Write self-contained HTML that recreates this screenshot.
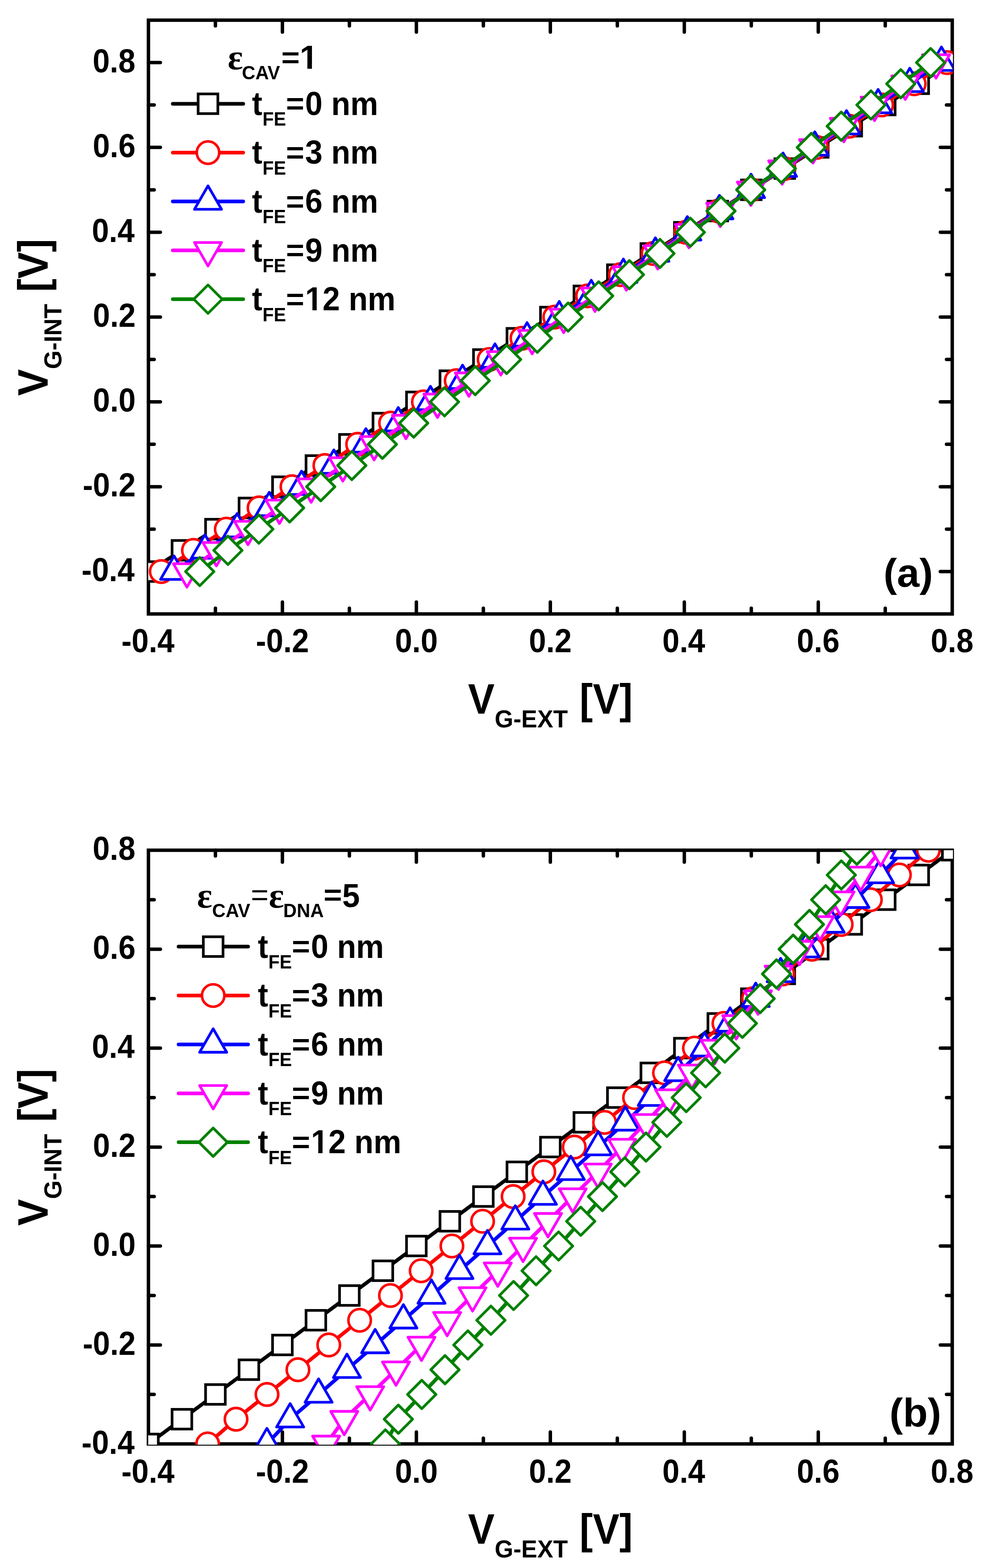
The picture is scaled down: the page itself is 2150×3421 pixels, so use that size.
<!DOCTYPE html><html><head><meta charset="utf-8"><style>html,body{margin:0;padding:0;background:#fff}svg{display:block}</style></head><body><svg width="2150" height="3421" viewBox="0 0 2150 3421">
<rect width="2150" height="3421" fill="#fff"/>
<rect x="324.0" y="44.0" width="1754.5" height="1295.5" fill="none" stroke="#000" stroke-width="7.5" stroke-linejoin="miter"/>
<path d="M470.21 1339.50L470.21 1327.00 M470.21 44.00L470.21 56.50 M616.42 1339.50L616.42 1313.50 M616.42 44.00L616.42 70.00 M762.62 1339.50L762.62 1327.00 M762.62 44.00L762.62 56.50 M908.83 1339.50L908.83 1313.50 M908.83 44.00L908.83 70.00 M1055.04 1339.50L1055.04 1327.00 M1055.04 44.00L1055.04 56.50 M1201.25 1339.50L1201.25 1313.50 M1201.25 44.00L1201.25 70.00 M1347.46 1339.50L1347.46 1327.00 M1347.46 44.00L1347.46 56.50 M1493.67 1339.50L1493.67 1313.50 M1493.67 44.00L1493.67 70.00 M1639.88 1339.50L1639.88 1327.00 M1639.88 44.00L1639.88 56.50 M1786.08 1339.50L1786.08 1313.50 M1786.08 44.00L1786.08 70.00 M1932.29 1339.50L1932.29 1327.00 M1932.29 44.00L1932.29 56.50 M324.00 1246.96L350.00 1246.96 M2078.50 1246.96L2052.50 1246.96 M324.00 1154.43L336.50 1154.43 M2078.50 1154.43L2066.00 1154.43 M324.00 1061.89L350.00 1061.89 M2078.50 1061.89L2052.50 1061.89 M324.00 969.36L336.50 969.36 M2078.50 969.36L2066.00 969.36 M324.00 876.82L350.00 876.82 M2078.50 876.82L2052.50 876.82 M324.00 784.29L336.50 784.29 M2078.50 784.29L2066.00 784.29 M324.00 691.75L350.00 691.75 M2078.50 691.75L2052.50 691.75 M324.00 599.21L336.50 599.21 M2078.50 599.21L2066.00 599.21 M324.00 506.68L350.00 506.68 M2078.50 506.68L2052.50 506.68 M324.00 414.14L336.50 414.14 M2078.50 414.14L2066.00 414.14 M324.00 321.61L350.00 321.61 M2078.50 321.61L2052.50 321.61 M324.00 229.07L336.50 229.07 M2078.50 229.07L2066.00 229.07 M324.00 136.54L350.00 136.54 M2078.50 136.54L2052.50 136.54" stroke="#000" stroke-width="7.5" stroke-linecap="round" fill="none"/>
<text transform="translate(264.96,1423.40) scale(0.94,1)" font-size="71.5" font-weight="bold" font-family='"Liberation Sans", Arial, sans-serif' fill="#000">-0.4</text>
<text transform="translate(558.54,1423.40) scale(0.94,1)" font-size="71.5" font-weight="bold" font-family='"Liberation Sans", Arial, sans-serif' fill="#000">-0.2</text>
<text transform="translate(862.17,1423.40) scale(0.94,1)" font-size="71.5" font-weight="bold" font-family='"Liberation Sans", Arial, sans-serif' fill="#000">0.0</text>
<text transform="translate(1154.55,1423.40) scale(0.94,1)" font-size="71.5" font-weight="bold" font-family='"Liberation Sans", Arial, sans-serif' fill="#000">0.2</text>
<text transform="translate(1445.80,1423.40) scale(0.94,1)" font-size="71.5" font-weight="bold" font-family='"Liberation Sans", Arial, sans-serif' fill="#000">0.4</text>
<text transform="translate(1739.25,1423.40) scale(0.94,1)" font-size="71.5" font-weight="bold" font-family='"Liberation Sans", Arial, sans-serif' fill="#000">0.6</text>
<text transform="translate(2031.49,1423.40) scale(0.94,1)" font-size="71.5" font-weight="bold" font-family='"Liberation Sans", Arial, sans-serif' fill="#000">0.8</text>
<text transform="translate(178.05,1268.16) scale(0.94,1)" font-size="71.5" font-weight="bold" font-family='"Liberation Sans", Arial, sans-serif' fill="#000">-0.4</text>
<text transform="translate(180.38,1083.09) scale(0.94,1)" font-size="71.5" font-weight="bold" font-family='"Liberation Sans", Arial, sans-serif' fill="#000">-0.2</text>
<text transform="translate(202.83,898.02) scale(0.94,1)" font-size="71.5" font-weight="bold" font-family='"Liberation Sans", Arial, sans-serif' fill="#000">0.0</text>
<text transform="translate(202.76,712.95) scale(0.94,1)" font-size="71.5" font-weight="bold" font-family='"Liberation Sans", Arial, sans-serif' fill="#000">0.2</text>
<text transform="translate(200.43,527.88) scale(0.94,1)" font-size="71.5" font-weight="bold" font-family='"Liberation Sans", Arial, sans-serif' fill="#000">0.4</text>
<text transform="translate(202.50,342.81) scale(0.94,1)" font-size="71.5" font-weight="bold" font-family='"Liberation Sans", Arial, sans-serif' fill="#000">0.6</text>
<text transform="translate(202.14,157.74) scale(0.94,1)" font-size="71.5" font-weight="bold" font-family='"Liberation Sans", Arial, sans-serif' fill="#000">0.8</text>
<text transform="translate(1021.40,1557.40) scale(0.936,1)" font-size="93" font-weight="bold" font-family='"Liberation Sans", Arial, sans-serif' fill="#000">V</text>
<text transform="translate(1079.76,1587.00) scale(0.975,1)" font-size="53.6" font-weight="bold" font-family='"Liberation Sans", Arial, sans-serif' fill="#000">G-EXT</text>
<text transform="translate(1265.01,1557.40) scale(0.936,1)" font-size="93" font-weight="bold" font-family='"Liberation Sans", Arial, sans-serif' fill="#000">[V]</text>
<text transform="translate(104.00,863.40) rotate(-90) scale(0.936,1)" font-size="93" font-weight="bold" font-family='"Liberation Sans", Arial, sans-serif'>V</text>
<text transform="translate(134.20,805.14) rotate(-90) scale(0.975,1)" font-size="53.6" font-weight="bold" font-family='"Liberation Sans", Arial, sans-serif'>G-INT</text>
<text transform="translate(104.00,636.99) rotate(-90) scale(0.936,1)" font-size="93" font-weight="bold" font-family='"Liberation Sans", Arial, sans-serif'>[V]</text>
<clipPath id="ca"><rect x="323.5" y="44.0" width="1756.5" height="1297.2"/></clipPath>
<g clip-path="url(#ca)">
<path d="M324.00 1246.96 L397.10 1200.70 L470.21 1154.43 L543.31 1108.16 L616.42 1061.89 L689.52 1015.63 L762.62 969.36 L835.73 923.09 L908.83 876.82 L981.94 830.55 L1055.04 784.29 L1128.15 738.02 L1201.25 691.75 L1274.35 645.48 L1347.46 599.21 L1420.56 552.95 L1493.67 506.68 L1566.77 460.41 L1639.88 414.14 L1712.98 367.88 L1786.08 321.61 L1859.19 275.34 L1932.29 229.07 L2005.40 182.80 L2078.50 136.54" fill="none" stroke="#000000" stroke-width="8" stroke-linejoin="round" stroke-linecap="round"/>
<rect x="302.50" y="1225.46" width="43.0" height="43.0" fill="#fff" stroke="#000000" stroke-width="5.8"/>
<rect x="375.60" y="1179.20" width="43.0" height="43.0" fill="#fff" stroke="#000000" stroke-width="5.8"/>
<rect x="448.71" y="1132.93" width="43.0" height="43.0" fill="#fff" stroke="#000000" stroke-width="5.8"/>
<rect x="521.81" y="1086.66" width="43.0" height="43.0" fill="#fff" stroke="#000000" stroke-width="5.8"/>
<rect x="594.92" y="1040.39" width="43.0" height="43.0" fill="#fff" stroke="#000000" stroke-width="5.8"/>
<rect x="668.02" y="994.13" width="43.0" height="43.0" fill="#fff" stroke="#000000" stroke-width="5.8"/>
<rect x="741.12" y="947.86" width="43.0" height="43.0" fill="#fff" stroke="#000000" stroke-width="5.8"/>
<rect x="814.23" y="901.59" width="43.0" height="43.0" fill="#fff" stroke="#000000" stroke-width="5.8"/>
<rect x="887.33" y="855.32" width="43.0" height="43.0" fill="#fff" stroke="#000000" stroke-width="5.8"/>
<rect x="960.44" y="809.05" width="43.0" height="43.0" fill="#fff" stroke="#000000" stroke-width="5.8"/>
<rect x="1033.54" y="762.79" width="43.0" height="43.0" fill="#fff" stroke="#000000" stroke-width="5.8"/>
<rect x="1106.65" y="716.52" width="43.0" height="43.0" fill="#fff" stroke="#000000" stroke-width="5.8"/>
<rect x="1179.75" y="670.25" width="43.0" height="43.0" fill="#fff" stroke="#000000" stroke-width="5.8"/>
<rect x="1252.85" y="623.98" width="43.0" height="43.0" fill="#fff" stroke="#000000" stroke-width="5.8"/>
<rect x="1325.96" y="577.71" width="43.0" height="43.0" fill="#fff" stroke="#000000" stroke-width="5.8"/>
<rect x="1399.06" y="531.45" width="43.0" height="43.0" fill="#fff" stroke="#000000" stroke-width="5.8"/>
<rect x="1472.17" y="485.18" width="43.0" height="43.0" fill="#fff" stroke="#000000" stroke-width="5.8"/>
<rect x="1545.27" y="438.91" width="43.0" height="43.0" fill="#fff" stroke="#000000" stroke-width="5.8"/>
<rect x="1618.38" y="392.64" width="43.0" height="43.0" fill="#fff" stroke="#000000" stroke-width="5.8"/>
<rect x="1691.48" y="346.38" width="43.0" height="43.0" fill="#fff" stroke="#000000" stroke-width="5.8"/>
<rect x="1764.58" y="300.11" width="43.0" height="43.0" fill="#fff" stroke="#000000" stroke-width="5.8"/>
<rect x="1837.69" y="253.84" width="43.0" height="43.0" fill="#fff" stroke="#000000" stroke-width="5.8"/>
<rect x="1910.79" y="207.57" width="43.0" height="43.0" fill="#fff" stroke="#000000" stroke-width="5.8"/>
<rect x="1983.90" y="161.30" width="43.0" height="43.0" fill="#fff" stroke="#000000" stroke-width="5.8"/>
<rect x="2057.00" y="115.04" width="43.0" height="43.0" fill="#fff" stroke="#000000" stroke-width="5.8"/>
<path d="M352.00 1246.96 L422.20 1200.70 L493.91 1154.43 L565.51 1108.16 L637.32 1061.89 L709.12 1015.63 L780.62 969.36 L852.53 923.09 L924.18 876.82 L995.79 830.55 L1067.74 784.29 L1139.30 738.02 L1210.95 691.75 L1282.45 645.48 L1354.06 599.21 L1425.56 552.95 L1496.97 506.68 L1568.52 460.41 L1639.58 414.14 L1711.08 367.88 L1782.28 321.61 L1853.44 275.34 L1924.49 229.07 L1995.60 182.80 L2066.70 136.54" fill="none" stroke="#FF0000" stroke-width="8" stroke-linejoin="round" stroke-linecap="round"/>
<circle cx="352.00" cy="1246.96" r="24.5" fill="#fff" stroke="#FF0000" stroke-width="5.6"/>
<circle cx="422.20" cy="1200.70" r="24.5" fill="#fff" stroke="#FF0000" stroke-width="5.6"/>
<circle cx="493.91" cy="1154.43" r="24.5" fill="#fff" stroke="#FF0000" stroke-width="5.6"/>
<circle cx="565.51" cy="1108.16" r="24.5" fill="#fff" stroke="#FF0000" stroke-width="5.6"/>
<circle cx="637.32" cy="1061.89" r="24.5" fill="#fff" stroke="#FF0000" stroke-width="5.6"/>
<circle cx="709.12" cy="1015.63" r="24.5" fill="#fff" stroke="#FF0000" stroke-width="5.6"/>
<circle cx="780.62" cy="969.36" r="24.5" fill="#fff" stroke="#FF0000" stroke-width="5.6"/>
<circle cx="852.53" cy="923.09" r="24.5" fill="#fff" stroke="#FF0000" stroke-width="5.6"/>
<circle cx="924.18" cy="876.82" r="24.5" fill="#fff" stroke="#FF0000" stroke-width="5.6"/>
<circle cx="995.79" cy="830.55" r="24.5" fill="#fff" stroke="#FF0000" stroke-width="5.6"/>
<circle cx="1067.74" cy="784.29" r="24.5" fill="#fff" stroke="#FF0000" stroke-width="5.6"/>
<circle cx="1139.30" cy="738.02" r="24.5" fill="#fff" stroke="#FF0000" stroke-width="5.6"/>
<circle cx="1210.95" cy="691.75" r="24.5" fill="#fff" stroke="#FF0000" stroke-width="5.6"/>
<circle cx="1282.45" cy="645.48" r="24.5" fill="#fff" stroke="#FF0000" stroke-width="5.6"/>
<circle cx="1354.06" cy="599.21" r="24.5" fill="#fff" stroke="#FF0000" stroke-width="5.6"/>
<circle cx="1425.56" cy="552.95" r="24.5" fill="#fff" stroke="#FF0000" stroke-width="5.6"/>
<circle cx="1496.97" cy="506.68" r="24.5" fill="#fff" stroke="#FF0000" stroke-width="5.6"/>
<circle cx="1568.52" cy="460.41" r="24.5" fill="#fff" stroke="#FF0000" stroke-width="5.6"/>
<circle cx="1639.58" cy="414.14" r="24.5" fill="#fff" stroke="#FF0000" stroke-width="5.6"/>
<circle cx="1711.08" cy="367.88" r="24.5" fill="#fff" stroke="#FF0000" stroke-width="5.6"/>
<circle cx="1782.28" cy="321.61" r="24.5" fill="#fff" stroke="#FF0000" stroke-width="5.6"/>
<circle cx="1853.44" cy="275.34" r="24.5" fill="#fff" stroke="#FF0000" stroke-width="5.6"/>
<circle cx="1924.49" cy="229.07" r="24.5" fill="#fff" stroke="#FF0000" stroke-width="5.6"/>
<circle cx="1995.60" cy="182.80" r="24.5" fill="#fff" stroke="#FF0000" stroke-width="5.6"/>
<circle cx="2066.70" cy="136.54" r="24.5" fill="#fff" stroke="#FF0000" stroke-width="5.6"/>
<path d="M380.00 1246.96 L447.30 1200.70 L517.61 1154.43 L587.71 1108.16 L658.22 1061.89 L728.72 1015.63 L798.62 969.36 L869.33 923.09 L939.53 876.82 L1009.64 830.55 L1080.44 784.29 L1150.45 738.02 L1220.65 691.75 L1290.55 645.48 L1360.66 599.21 L1430.56 552.95 L1500.27 506.68 L1570.27 460.41 L1639.28 414.14 L1709.18 367.88 L1778.48 321.61 L1847.69 275.34 L1916.69 229.07 L1985.80 182.80 L2054.90 136.54" fill="none" stroke="#0000FF" stroke-width="8" stroke-linejoin="round" stroke-linecap="round"/>
<path d="M380.00 1212.83L409.56 1264.03L350.44 1264.03Z" fill="#fff" stroke="#0000FF" stroke-width="5.8" stroke-linejoin="round"/>
<path d="M447.30 1166.56L476.87 1217.76L417.74 1217.76Z" fill="#fff" stroke="#0000FF" stroke-width="5.8" stroke-linejoin="round"/>
<path d="M517.61 1120.30L547.17 1171.50L488.05 1171.50Z" fill="#fff" stroke="#0000FF" stroke-width="5.8" stroke-linejoin="round"/>
<path d="M587.71 1074.03L617.27 1125.23L558.15 1125.23Z" fill="#fff" stroke="#0000FF" stroke-width="5.8" stroke-linejoin="round"/>
<path d="M658.22 1027.76L687.78 1078.96L628.66 1078.96Z" fill="#fff" stroke="#0000FF" stroke-width="5.8" stroke-linejoin="round"/>
<path d="M728.72 981.49L758.28 1032.69L699.16 1032.69Z" fill="#fff" stroke="#0000FF" stroke-width="5.8" stroke-linejoin="round"/>
<path d="M798.62 935.22L828.19 986.42L769.06 986.42Z" fill="#fff" stroke="#0000FF" stroke-width="5.8" stroke-linejoin="round"/>
<path d="M869.33 888.96L898.89 940.16L839.77 940.16Z" fill="#fff" stroke="#0000FF" stroke-width="5.8" stroke-linejoin="round"/>
<path d="M939.53 842.69L969.09 893.89L909.97 893.89Z" fill="#fff" stroke="#0000FF" stroke-width="5.8" stroke-linejoin="round"/>
<path d="M1009.64 796.42L1039.20 847.62L980.08 847.62Z" fill="#fff" stroke="#0000FF" stroke-width="5.8" stroke-linejoin="round"/>
<path d="M1080.44 750.15L1110.00 801.35L1050.88 801.35Z" fill="#fff" stroke="#0000FF" stroke-width="5.8" stroke-linejoin="round"/>
<path d="M1150.45 703.88L1180.01 755.08L1120.88 755.08Z" fill="#fff" stroke="#0000FF" stroke-width="5.8" stroke-linejoin="round"/>
<path d="M1220.65 657.62L1250.21 708.82L1191.09 708.82Z" fill="#fff" stroke="#0000FF" stroke-width="5.8" stroke-linejoin="round"/>
<path d="M1290.55 611.35L1320.12 662.55L1260.99 662.55Z" fill="#fff" stroke="#0000FF" stroke-width="5.8" stroke-linejoin="round"/>
<path d="M1360.66 565.08L1390.22 616.28L1331.10 616.28Z" fill="#fff" stroke="#0000FF" stroke-width="5.8" stroke-linejoin="round"/>
<path d="M1430.56 518.81L1460.12 570.01L1401.00 570.01Z" fill="#fff" stroke="#0000FF" stroke-width="5.8" stroke-linejoin="round"/>
<path d="M1500.27 472.55L1529.83 523.75L1470.71 523.75Z" fill="#fff" stroke="#0000FF" stroke-width="5.8" stroke-linejoin="round"/>
<path d="M1570.27 426.28L1599.83 477.48L1540.71 477.48Z" fill="#fff" stroke="#0000FF" stroke-width="5.8" stroke-linejoin="round"/>
<path d="M1639.28 380.01L1668.84 431.21L1609.71 431.21Z" fill="#fff" stroke="#0000FF" stroke-width="5.8" stroke-linejoin="round"/>
<path d="M1709.18 333.74L1738.74 384.94L1679.62 384.94Z" fill="#fff" stroke="#0000FF" stroke-width="5.8" stroke-linejoin="round"/>
<path d="M1778.48 287.47L1808.04 338.67L1748.92 338.67Z" fill="#fff" stroke="#0000FF" stroke-width="5.8" stroke-linejoin="round"/>
<path d="M1847.69 241.21L1877.25 292.41L1818.13 292.41Z" fill="#fff" stroke="#0000FF" stroke-width="5.8" stroke-linejoin="round"/>
<path d="M1916.69 194.94L1946.25 246.14L1887.13 246.14Z" fill="#fff" stroke="#0000FF" stroke-width="5.8" stroke-linejoin="round"/>
<path d="M1985.80 148.67L2015.36 199.87L1956.23 199.87Z" fill="#fff" stroke="#0000FF" stroke-width="5.8" stroke-linejoin="round"/>
<path d="M2054.90 102.40L2084.46 153.60L2025.34 153.60Z" fill="#fff" stroke="#0000FF" stroke-width="5.8" stroke-linejoin="round"/>
<path d="M408.00 1246.96 L472.40 1200.70 L541.31 1154.43 L609.91 1108.16 L679.12 1061.89 L748.32 1015.63 L816.62 969.36 L886.13 923.09 L954.88 876.82 L1023.49 830.55 L1093.14 784.29 L1161.60 738.02 L1230.35 691.75 L1298.65 645.48 L1367.26 599.21 L1435.56 552.95 L1503.57 506.68 L1572.02 460.41 L1638.97 414.14 L1707.28 367.88 L1774.68 321.61 L1841.94 275.34 L1908.89 229.07 L1976.00 182.80 L2043.10 136.54" fill="none" stroke="#FF00FF" stroke-width="8" stroke-linejoin="round" stroke-linecap="round"/>
<path d="M408.00 1281.10L437.56 1229.90L378.44 1229.90Z" fill="#fff" stroke="#FF00FF" stroke-width="5.8" stroke-linejoin="round"/>
<path d="M472.40 1234.83L501.97 1183.63L442.84 1183.63Z" fill="#fff" stroke="#FF00FF" stroke-width="5.8" stroke-linejoin="round"/>
<path d="M541.31 1188.56L570.87 1137.36L511.75 1137.36Z" fill="#fff" stroke="#FF00FF" stroke-width="5.8" stroke-linejoin="round"/>
<path d="M609.91 1142.29L639.47 1091.09L580.35 1091.09Z" fill="#fff" stroke="#FF00FF" stroke-width="5.8" stroke-linejoin="round"/>
<path d="M679.12 1096.03L708.68 1044.83L649.56 1044.83Z" fill="#fff" stroke="#FF00FF" stroke-width="5.8" stroke-linejoin="round"/>
<path d="M748.32 1049.76L777.88 998.56L718.76 998.56Z" fill="#fff" stroke="#FF00FF" stroke-width="5.8" stroke-linejoin="round"/>
<path d="M816.62 1003.49L846.19 952.29L787.06 952.29Z" fill="#fff" stroke="#FF00FF" stroke-width="5.8" stroke-linejoin="round"/>
<path d="M886.13 957.22L915.69 906.02L856.57 906.02Z" fill="#fff" stroke="#FF00FF" stroke-width="5.8" stroke-linejoin="round"/>
<path d="M954.88 910.95L984.44 859.75L925.32 859.75Z" fill="#fff" stroke="#FF00FF" stroke-width="5.8" stroke-linejoin="round"/>
<path d="M1023.49 864.69L1053.05 813.49L993.93 813.49Z" fill="#fff" stroke="#FF00FF" stroke-width="5.8" stroke-linejoin="round"/>
<path d="M1093.14 818.42L1122.70 767.22L1063.58 767.22Z" fill="#fff" stroke="#FF00FF" stroke-width="5.8" stroke-linejoin="round"/>
<path d="M1161.60 772.15L1191.16 720.95L1132.03 720.95Z" fill="#fff" stroke="#FF00FF" stroke-width="5.8" stroke-linejoin="round"/>
<path d="M1230.35 725.88L1259.91 674.68L1200.79 674.68Z" fill="#fff" stroke="#FF00FF" stroke-width="5.8" stroke-linejoin="round"/>
<path d="M1298.65 679.62L1328.22 628.42L1269.09 628.42Z" fill="#fff" stroke="#FF00FF" stroke-width="5.8" stroke-linejoin="round"/>
<path d="M1367.26 633.35L1396.82 582.15L1337.70 582.15Z" fill="#fff" stroke="#FF00FF" stroke-width="5.8" stroke-linejoin="round"/>
<path d="M1435.56 587.08L1465.12 535.88L1406.00 535.88Z" fill="#fff" stroke="#FF00FF" stroke-width="5.8" stroke-linejoin="round"/>
<path d="M1503.57 540.81L1533.13 489.61L1474.01 489.61Z" fill="#fff" stroke="#FF00FF" stroke-width="5.8" stroke-linejoin="round"/>
<path d="M1572.02 494.54L1601.58 443.34L1542.46 443.34Z" fill="#fff" stroke="#FF00FF" stroke-width="5.8" stroke-linejoin="round"/>
<path d="M1638.97 448.28L1668.54 397.08L1609.41 397.08Z" fill="#fff" stroke="#FF00FF" stroke-width="5.8" stroke-linejoin="round"/>
<path d="M1707.28 402.01L1736.84 350.81L1677.72 350.81Z" fill="#fff" stroke="#FF00FF" stroke-width="5.8" stroke-linejoin="round"/>
<path d="M1774.68 355.74L1804.24 304.54L1745.12 304.54Z" fill="#fff" stroke="#FF00FF" stroke-width="5.8" stroke-linejoin="round"/>
<path d="M1841.94 309.47L1871.50 258.27L1812.38 258.27Z" fill="#fff" stroke="#FF00FF" stroke-width="5.8" stroke-linejoin="round"/>
<path d="M1908.89 263.20L1938.45 212.00L1879.33 212.00Z" fill="#fff" stroke="#FF00FF" stroke-width="5.8" stroke-linejoin="round"/>
<path d="M1976.00 216.94L2005.56 165.74L1946.43 165.74Z" fill="#fff" stroke="#FF00FF" stroke-width="5.8" stroke-linejoin="round"/>
<path d="M2043.10 170.67L2072.66 119.47L2013.54 119.47Z" fill="#fff" stroke="#FF00FF" stroke-width="5.8" stroke-linejoin="round"/>
<path d="M436.00 1246.96 L497.50 1200.70 L565.01 1154.43 L632.11 1108.16 L700.02 1061.89 L767.92 1015.63 L834.62 969.36 L902.93 923.09 L970.23 876.82 L1037.34 830.55 L1105.84 784.29 L1172.75 738.02 L1240.05 691.75 L1306.75 645.48 L1373.86 599.21 L1440.56 552.95 L1506.87 506.68 L1573.77 460.41 L1638.67 414.14 L1705.38 367.88 L1770.88 321.61 L1836.19 275.34 L1901.09 229.07 L1966.20 182.80 L2031.30 136.54" fill="none" stroke="#008000" stroke-width="8" stroke-linejoin="round" stroke-linecap="round"/>
<path d="M436.00 1215.96L467.00 1246.96L436.00 1277.96L405.00 1246.96Z" fill="#fff" stroke="#008000" stroke-width="5.8" stroke-linejoin="round"/>
<path d="M497.50 1169.70L528.50 1200.70L497.50 1231.70L466.50 1200.70Z" fill="#fff" stroke="#008000" stroke-width="5.8" stroke-linejoin="round"/>
<path d="M565.01 1123.43L596.01 1154.43L565.01 1185.43L534.01 1154.43Z" fill="#fff" stroke="#008000" stroke-width="5.8" stroke-linejoin="round"/>
<path d="M632.11 1077.16L663.11 1108.16L632.11 1139.16L601.11 1108.16Z" fill="#fff" stroke="#008000" stroke-width="5.8" stroke-linejoin="round"/>
<path d="M700.02 1030.89L731.02 1061.89L700.02 1092.89L669.02 1061.89Z" fill="#fff" stroke="#008000" stroke-width="5.8" stroke-linejoin="round"/>
<path d="M767.92 984.63L798.92 1015.63L767.92 1046.62L736.92 1015.63Z" fill="#fff" stroke="#008000" stroke-width="5.8" stroke-linejoin="round"/>
<path d="M834.62 938.36L865.62 969.36L834.62 1000.36L803.62 969.36Z" fill="#fff" stroke="#008000" stroke-width="5.8" stroke-linejoin="round"/>
<path d="M902.93 892.09L933.93 923.09L902.93 954.09L871.93 923.09Z" fill="#fff" stroke="#008000" stroke-width="5.8" stroke-linejoin="round"/>
<path d="M970.23 845.82L1001.23 876.82L970.23 907.82L939.23 876.82Z" fill="#fff" stroke="#008000" stroke-width="5.8" stroke-linejoin="round"/>
<path d="M1037.34 799.55L1068.34 830.55L1037.34 861.55L1006.34 830.55Z" fill="#fff" stroke="#008000" stroke-width="5.8" stroke-linejoin="round"/>
<path d="M1105.84 753.29L1136.84 784.29L1105.84 815.29L1074.84 784.29Z" fill="#fff" stroke="#008000" stroke-width="5.8" stroke-linejoin="round"/>
<path d="M1172.75 707.02L1203.75 738.02L1172.75 769.02L1141.75 738.02Z" fill="#fff" stroke="#008000" stroke-width="5.8" stroke-linejoin="round"/>
<path d="M1240.05 660.75L1271.05 691.75L1240.05 722.75L1209.05 691.75Z" fill="#fff" stroke="#008000" stroke-width="5.8" stroke-linejoin="round"/>
<path d="M1306.75 614.48L1337.75 645.48L1306.75 676.48L1275.75 645.48Z" fill="#fff" stroke="#008000" stroke-width="5.8" stroke-linejoin="round"/>
<path d="M1373.86 568.21L1404.86 599.21L1373.86 630.21L1342.86 599.21Z" fill="#fff" stroke="#008000" stroke-width="5.8" stroke-linejoin="round"/>
<path d="M1440.56 521.95L1471.56 552.95L1440.56 583.95L1409.56 552.95Z" fill="#fff" stroke="#008000" stroke-width="5.8" stroke-linejoin="round"/>
<path d="M1506.87 475.68L1537.87 506.68L1506.87 537.68L1475.87 506.68Z" fill="#fff" stroke="#008000" stroke-width="5.8" stroke-linejoin="round"/>
<path d="M1573.77 429.41L1604.77 460.41L1573.77 491.41L1542.77 460.41Z" fill="#fff" stroke="#008000" stroke-width="5.8" stroke-linejoin="round"/>
<path d="M1638.67 383.14L1669.67 414.14L1638.67 445.14L1607.67 414.14Z" fill="#fff" stroke="#008000" stroke-width="5.8" stroke-linejoin="round"/>
<path d="M1705.38 336.88L1736.38 367.88L1705.38 398.88L1674.38 367.88Z" fill="#fff" stroke="#008000" stroke-width="5.8" stroke-linejoin="round"/>
<path d="M1770.88 290.61L1801.88 321.61L1770.88 352.61L1739.88 321.61Z" fill="#fff" stroke="#008000" stroke-width="5.8" stroke-linejoin="round"/>
<path d="M1836.19 244.34L1867.19 275.34L1836.19 306.34L1805.19 275.34Z" fill="#fff" stroke="#008000" stroke-width="5.8" stroke-linejoin="round"/>
<path d="M1901.09 198.07L1932.09 229.07L1901.09 260.07L1870.09 229.07Z" fill="#fff" stroke="#008000" stroke-width="5.8" stroke-linejoin="round"/>
<path d="M1966.20 151.80L1997.20 182.80L1966.20 213.80L1935.20 182.80Z" fill="#fff" stroke="#008000" stroke-width="5.8" stroke-linejoin="round"/>
<path d="M2031.30 105.54L2062.30 136.54L2031.30 167.54L2000.30 136.54Z" fill="#fff" stroke="#008000" stroke-width="5.8" stroke-linejoin="round"/>
</g>
<line x1="377.2" y1="226.40" x2="530.8" y2="226.40" stroke="#000000" stroke-width="8" stroke-linecap="round"/>
<rect x="432.50" y="204.90" width="43.0" height="43.0" fill="#fff" stroke="#000000" stroke-width="5.8"/>
<text transform="translate(550.07,250.70) scale(0.95,1)" font-size="71.5" font-weight="bold" font-family='"Liberation Sans", Arial, sans-serif' fill="#000">t</text>
<text transform="translate(573.01,274.10) scale(0.932,1)" font-size="43.2" font-weight="bold" font-family='"Liberation Sans", Arial, sans-serif' fill="#000">FE</text>
<text transform="translate(624.37,248.42) scale(0.955,0.9178)" font-size="71.5" font-weight="bold" font-family='"Liberation Sans", Arial, sans-serif'>=</text>
<text transform="translate(666.00,250.70) scale(0.955,1)" font-size="71.5" font-weight="bold" font-family='"Liberation Sans", Arial, sans-serif'>0 nm</text>
<line x1="377.2" y1="333.00" x2="530.8" y2="333.00" stroke="#FF0000" stroke-width="8" stroke-linecap="round"/>
<circle cx="454.00" cy="333.00" r="24.5" fill="#fff" stroke="#FF0000" stroke-width="5.6"/>
<text transform="translate(550.07,357.30) scale(0.95,1)" font-size="71.5" font-weight="bold" font-family='"Liberation Sans", Arial, sans-serif' fill="#000">t</text>
<text transform="translate(573.01,380.70) scale(0.932,1)" font-size="43.2" font-weight="bold" font-family='"Liberation Sans", Arial, sans-serif' fill="#000">FE</text>
<text transform="translate(624.37,355.02) scale(0.955,0.9178)" font-size="71.5" font-weight="bold" font-family='"Liberation Sans", Arial, sans-serif'>=</text>
<text transform="translate(666.00,357.30) scale(0.955,1)" font-size="71.5" font-weight="bold" font-family='"Liberation Sans", Arial, sans-serif'>3 nm</text>
<line x1="377.2" y1="439.60" x2="530.8" y2="439.60" stroke="#0000FF" stroke-width="8" stroke-linecap="round"/>
<path d="M454.00 405.47L483.56 456.67L424.44 456.67Z" fill="#fff" stroke="#0000FF" stroke-width="5.8" stroke-linejoin="round"/>
<text transform="translate(550.07,463.90) scale(0.95,1)" font-size="71.5" font-weight="bold" font-family='"Liberation Sans", Arial, sans-serif' fill="#000">t</text>
<text transform="translate(573.01,487.30) scale(0.932,1)" font-size="43.2" font-weight="bold" font-family='"Liberation Sans", Arial, sans-serif' fill="#000">FE</text>
<text transform="translate(624.37,461.62) scale(0.955,0.9178)" font-size="71.5" font-weight="bold" font-family='"Liberation Sans", Arial, sans-serif'>=</text>
<text transform="translate(666.00,463.90) scale(0.955,1)" font-size="71.5" font-weight="bold" font-family='"Liberation Sans", Arial, sans-serif'>6 nm</text>
<line x1="377.2" y1="546.20" x2="530.8" y2="546.20" stroke="#FF00FF" stroke-width="8" stroke-linecap="round"/>
<path d="M454.00 580.33L483.56 529.13L424.44 529.13Z" fill="#fff" stroke="#FF00FF" stroke-width="5.8" stroke-linejoin="round"/>
<text transform="translate(550.07,570.50) scale(0.95,1)" font-size="71.5" font-weight="bold" font-family='"Liberation Sans", Arial, sans-serif' fill="#000">t</text>
<text transform="translate(573.01,593.90) scale(0.932,1)" font-size="43.2" font-weight="bold" font-family='"Liberation Sans", Arial, sans-serif' fill="#000">FE</text>
<text transform="translate(624.37,568.22) scale(0.955,0.9178)" font-size="71.5" font-weight="bold" font-family='"Liberation Sans", Arial, sans-serif'>=</text>
<text transform="translate(666.00,570.50) scale(0.955,1)" font-size="71.5" font-weight="bold" font-family='"Liberation Sans", Arial, sans-serif'>9 nm</text>
<line x1="377.2" y1="652.80" x2="530.8" y2="652.80" stroke="#008000" stroke-width="8" stroke-linecap="round"/>
<path d="M454.00 621.80L485.00 652.80L454.00 683.80L423.00 652.80Z" fill="#fff" stroke="#008000" stroke-width="5.8" stroke-linejoin="round"/>
<text transform="translate(550.07,677.10) scale(0.95,1)" font-size="71.5" font-weight="bold" font-family='"Liberation Sans", Arial, sans-serif' fill="#000">t</text>
<text transform="translate(573.01,700.50) scale(0.932,1)" font-size="43.2" font-weight="bold" font-family='"Liberation Sans", Arial, sans-serif' fill="#000">FE</text>
<text transform="translate(624.37,674.82) scale(0.955,0.9178)" font-size="71.5" font-weight="bold" font-family='"Liberation Sans", Arial, sans-serif'>=</text>
<clipPath id="one715"><rect x="-71.5" y="-143.0" width="214.5" height="133.20"/><rect x="16.69" y="-71.5" width="9.81" height="143.0"/></clipPath>
<text transform="translate(666.00,677.10) scale(0.955,1)" clip-path="url(#one715)" font-size="71.5" font-weight="bold" font-family='"Liberation Sans", Arial, sans-serif'>1</text>
<text transform="translate(703.98,677.10) scale(0.955,1)" font-size="71.5" font-weight="bold" font-family='"Liberation Sans", Arial, sans-serif'>2 nm</text>
<text x="496.9" y="151.1" font-size="78" font-family='"Liberation Serif", serif' font-weight="bold">ε</text>
<text transform="translate(528.03,173.40) scale(0.951,1)" font-size="42.9" font-weight="bold" font-family='"Liberation Sans", Arial, sans-serif' fill="#000">CAV</text>
<text transform="translate(614.03,146.96) scale(0.95,0.8771)" font-size="72.7" font-weight="bold" font-family='"Liberation Sans", Arial, sans-serif'>=</text>
<clipPath id="one727"><rect x="-72.7" y="-145.4" width="218.10000000000002" height="135.48"/><rect x="16.97" y="-72.7" width="9.97" height="145.4"/></clipPath>
<text transform="translate(653.93,149.90) scale(1.0,1)" clip-path="url(#one727)" font-size="72.7" font-weight="bold" font-family='"Liberation Sans", Arial, sans-serif'>1</text>
<text transform="translate(1928.40,1279.50) scale(1.01,1)" font-size="87.5" font-weight="bold" font-family='"Liberation Sans", Arial, sans-serif' fill="#000">(a)</text>
<rect x="324.0" y="1855.0" width="1754.5" height="1295.3000000000002" fill="none" stroke="#000" stroke-width="7.5" stroke-linejoin="miter"/>
<path d="M470.21 3150.30L470.21 3137.80 M470.21 1855.00L470.21 1867.50 M616.42 3150.30L616.42 3124.30 M616.42 1855.00L616.42 1881.00 M762.62 3150.30L762.62 3137.80 M762.62 1855.00L762.62 1867.50 M908.83 3150.30L908.83 3124.30 M908.83 1855.00L908.83 1881.00 M1055.04 3150.30L1055.04 3137.80 M1055.04 1855.00L1055.04 1867.50 M1201.25 3150.30L1201.25 3124.30 M1201.25 1855.00L1201.25 1881.00 M1347.46 3150.30L1347.46 3137.80 M1347.46 1855.00L1347.46 1867.50 M1493.67 3150.30L1493.67 3124.30 M1493.67 1855.00L1493.67 1881.00 M1639.88 3150.30L1639.88 3137.80 M1639.88 1855.00L1639.88 1867.50 M1786.08 3150.30L1786.08 3124.30 M1786.08 1855.00L1786.08 1881.00 M1932.29 3150.30L1932.29 3137.80 M1932.29 1855.00L1932.29 1867.50 M324.00 3042.36L336.50 3042.36 M2078.50 3042.36L2066.00 3042.36 M324.00 2934.42L350.00 2934.42 M2078.50 2934.42L2052.50 2934.42 M324.00 2826.47L336.50 2826.47 M2078.50 2826.47L2066.00 2826.47 M324.00 2718.53L350.00 2718.53 M2078.50 2718.53L2052.50 2718.53 M324.00 2610.59L336.50 2610.59 M2078.50 2610.59L2066.00 2610.59 M324.00 2502.65L350.00 2502.65 M2078.50 2502.65L2052.50 2502.65 M324.00 2394.71L336.50 2394.71 M2078.50 2394.71L2066.00 2394.71 M324.00 2286.77L350.00 2286.77 M2078.50 2286.77L2052.50 2286.77 M324.00 2178.82L336.50 2178.82 M2078.50 2178.82L2066.00 2178.82 M324.00 2070.88L350.00 2070.88 M2078.50 2070.88L2052.50 2070.88 M324.00 1962.94L336.50 1962.94 M2078.50 1962.94L2066.00 1962.94" stroke="#000" stroke-width="7.5" stroke-linecap="round" fill="none"/>
<text transform="translate(264.96,3235.20) scale(0.94,1)" font-size="71.5" font-weight="bold" font-family='"Liberation Sans", Arial, sans-serif' fill="#000">-0.4</text>
<text transform="translate(558.54,3235.20) scale(0.94,1)" font-size="71.5" font-weight="bold" font-family='"Liberation Sans", Arial, sans-serif' fill="#000">-0.2</text>
<text transform="translate(862.17,3235.20) scale(0.94,1)" font-size="71.5" font-weight="bold" font-family='"Liberation Sans", Arial, sans-serif' fill="#000">0.0</text>
<text transform="translate(1154.55,3235.20) scale(0.94,1)" font-size="71.5" font-weight="bold" font-family='"Liberation Sans", Arial, sans-serif' fill="#000">0.2</text>
<text transform="translate(1445.80,3235.20) scale(0.94,1)" font-size="71.5" font-weight="bold" font-family='"Liberation Sans", Arial, sans-serif' fill="#000">0.4</text>
<text transform="translate(1739.25,3235.20) scale(0.94,1)" font-size="71.5" font-weight="bold" font-family='"Liberation Sans", Arial, sans-serif' fill="#000">0.6</text>
<text transform="translate(2031.49,3235.20) scale(0.94,1)" font-size="71.5" font-weight="bold" font-family='"Liberation Sans", Arial, sans-serif' fill="#000">0.8</text>
<text transform="translate(178.05,3171.50) scale(0.94,1)" font-size="71.5" font-weight="bold" font-family='"Liberation Sans", Arial, sans-serif' fill="#000">-0.4</text>
<text transform="translate(180.38,2955.62) scale(0.94,1)" font-size="71.5" font-weight="bold" font-family='"Liberation Sans", Arial, sans-serif' fill="#000">-0.2</text>
<text transform="translate(202.83,2739.73) scale(0.94,1)" font-size="71.5" font-weight="bold" font-family='"Liberation Sans", Arial, sans-serif' fill="#000">0.0</text>
<text transform="translate(202.76,2523.85) scale(0.94,1)" font-size="71.5" font-weight="bold" font-family='"Liberation Sans", Arial, sans-serif' fill="#000">0.2</text>
<text transform="translate(200.43,2307.97) scale(0.94,1)" font-size="71.5" font-weight="bold" font-family='"Liberation Sans", Arial, sans-serif' fill="#000">0.4</text>
<text transform="translate(202.50,2092.08) scale(0.94,1)" font-size="71.5" font-weight="bold" font-family='"Liberation Sans", Arial, sans-serif' fill="#000">0.6</text>
<text transform="translate(202.14,1876.20) scale(0.94,1)" font-size="71.5" font-weight="bold" font-family='"Liberation Sans", Arial, sans-serif' fill="#000">0.8</text>
<text transform="translate(1021.40,3368.20) scale(0.936,1)" font-size="93" font-weight="bold" font-family='"Liberation Sans", Arial, sans-serif' fill="#000">V</text>
<text transform="translate(1079.76,3397.80) scale(0.975,1)" font-size="53.6" font-weight="bold" font-family='"Liberation Sans", Arial, sans-serif' fill="#000">G-EXT</text>
<text transform="translate(1265.01,3368.20) scale(0.936,1)" font-size="93" font-weight="bold" font-family='"Liberation Sans", Arial, sans-serif' fill="#000">[V]</text>
<text transform="translate(104.00,2674.20) rotate(-90) scale(0.936,1)" font-size="93" font-weight="bold" font-family='"Liberation Sans", Arial, sans-serif'>V</text>
<text transform="translate(134.20,2615.94) rotate(-90) scale(0.975,1)" font-size="53.6" font-weight="bold" font-family='"Liberation Sans", Arial, sans-serif'>G-INT</text>
<text transform="translate(104.00,2447.79) rotate(-90) scale(0.936,1)" font-size="93" font-weight="bold" font-family='"Liberation Sans", Arial, sans-serif'>[V]</text>
<clipPath id="cb"><rect x="323.5" y="1855.0" width="1756.5" height="1297.0000000000002"/></clipPath>
<g clip-path="url(#cb)">
<path d="M324.00 3150.30 L397.10 3096.33 L470.21 3042.36 L543.31 2988.39 L616.42 2934.42 L689.52 2880.45 L762.62 2826.47 L835.73 2772.50 L908.83 2718.53 L981.94 2664.56 L1055.04 2610.59 L1128.15 2556.62 L1201.25 2502.65 L1274.35 2448.68 L1347.46 2394.71 L1420.56 2340.74 L1493.67 2286.77 L1566.77 2232.80 L1639.88 2178.82 L1712.98 2124.85 L1786.08 2070.88 L1859.19 2016.91 L1932.29 1962.94 L2005.40 1908.97 L2078.50 1855.00" fill="none" stroke="#000000" stroke-width="8" stroke-linejoin="round" stroke-linecap="round"/>
<rect x="302.50" y="3128.80" width="43.0" height="43.0" fill="#fff" stroke="#000000" stroke-width="5.8"/>
<rect x="375.60" y="3074.83" width="43.0" height="43.0" fill="#fff" stroke="#000000" stroke-width="5.8"/>
<rect x="448.71" y="3020.86" width="43.0" height="43.0" fill="#fff" stroke="#000000" stroke-width="5.8"/>
<rect x="521.81" y="2966.89" width="43.0" height="43.0" fill="#fff" stroke="#000000" stroke-width="5.8"/>
<rect x="594.92" y="2912.92" width="43.0" height="43.0" fill="#fff" stroke="#000000" stroke-width="5.8"/>
<rect x="668.02" y="2858.95" width="43.0" height="43.0" fill="#fff" stroke="#000000" stroke-width="5.8"/>
<rect x="741.12" y="2804.97" width="43.0" height="43.0" fill="#fff" stroke="#000000" stroke-width="5.8"/>
<rect x="814.23" y="2751.00" width="43.0" height="43.0" fill="#fff" stroke="#000000" stroke-width="5.8"/>
<rect x="887.33" y="2697.03" width="43.0" height="43.0" fill="#fff" stroke="#000000" stroke-width="5.8"/>
<rect x="960.44" y="2643.06" width="43.0" height="43.0" fill="#fff" stroke="#000000" stroke-width="5.8"/>
<rect x="1033.54" y="2589.09" width="43.0" height="43.0" fill="#fff" stroke="#000000" stroke-width="5.8"/>
<rect x="1106.65" y="2535.12" width="43.0" height="43.0" fill="#fff" stroke="#000000" stroke-width="5.8"/>
<rect x="1179.75" y="2481.15" width="43.0" height="43.0" fill="#fff" stroke="#000000" stroke-width="5.8"/>
<rect x="1252.85" y="2427.18" width="43.0" height="43.0" fill="#fff" stroke="#000000" stroke-width="5.8"/>
<rect x="1325.96" y="2373.21" width="43.0" height="43.0" fill="#fff" stroke="#000000" stroke-width="5.8"/>
<rect x="1399.06" y="2319.24" width="43.0" height="43.0" fill="#fff" stroke="#000000" stroke-width="5.8"/>
<rect x="1472.17" y="2265.27" width="43.0" height="43.0" fill="#fff" stroke="#000000" stroke-width="5.8"/>
<rect x="1545.27" y="2211.30" width="43.0" height="43.0" fill="#fff" stroke="#000000" stroke-width="5.8"/>
<rect x="1618.38" y="2157.32" width="43.0" height="43.0" fill="#fff" stroke="#000000" stroke-width="5.8"/>
<rect x="1691.48" y="2103.35" width="43.0" height="43.0" fill="#fff" stroke="#000000" stroke-width="5.8"/>
<rect x="1764.58" y="2049.38" width="43.0" height="43.0" fill="#fff" stroke="#000000" stroke-width="5.8"/>
<rect x="1837.69" y="1995.41" width="43.0" height="43.0" fill="#fff" stroke="#000000" stroke-width="5.8"/>
<rect x="1910.79" y="1941.44" width="43.0" height="43.0" fill="#fff" stroke="#000000" stroke-width="5.8"/>
<rect x="1983.90" y="1887.47" width="43.0" height="43.0" fill="#fff" stroke="#000000" stroke-width="5.8"/>
<rect x="2057.00" y="1833.50" width="43.0" height="43.0" fill="#fff" stroke="#000000" stroke-width="5.8"/>
<path d="M453.30 3150.30 L515.20 3096.33 L582.81 3042.36 L650.31 2988.39 L717.62 2934.42 L785.02 2880.45 L852.23 2826.47 L919.33 2772.50 L986.43 2718.53 L1053.34 2664.56 L1120.04 2610.59 L1187.05 2556.62 L1253.45 2502.65 L1319.65 2448.68 L1385.06 2394.71 L1450.46 2340.74 L1515.77 2286.77 L1580.17 2232.80 L1644.72 2178.82 L1708.48 2124.85 L1772.38 2070.88 L1836.09 2016.91 L1899.79 1962.94 L1963.15 1908.97 L2026.45 1855.00" fill="none" stroke="#FF0000" stroke-width="8" stroke-linejoin="round" stroke-linecap="round"/>
<circle cx="453.30" cy="3150.30" r="24.5" fill="#fff" stroke="#FF0000" stroke-width="5.6"/>
<circle cx="515.20" cy="3096.33" r="24.5" fill="#fff" stroke="#FF0000" stroke-width="5.6"/>
<circle cx="582.81" cy="3042.36" r="24.5" fill="#fff" stroke="#FF0000" stroke-width="5.6"/>
<circle cx="650.31" cy="2988.39" r="24.5" fill="#fff" stroke="#FF0000" stroke-width="5.6"/>
<circle cx="717.62" cy="2934.42" r="24.5" fill="#fff" stroke="#FF0000" stroke-width="5.6"/>
<circle cx="785.02" cy="2880.45" r="24.5" fill="#fff" stroke="#FF0000" stroke-width="5.6"/>
<circle cx="852.23" cy="2826.47" r="24.5" fill="#fff" stroke="#FF0000" stroke-width="5.6"/>
<circle cx="919.33" cy="2772.50" r="24.5" fill="#fff" stroke="#FF0000" stroke-width="5.6"/>
<circle cx="986.43" cy="2718.53" r="24.5" fill="#fff" stroke="#FF0000" stroke-width="5.6"/>
<circle cx="1053.34" cy="2664.56" r="24.5" fill="#fff" stroke="#FF0000" stroke-width="5.6"/>
<circle cx="1120.04" cy="2610.59" r="24.5" fill="#fff" stroke="#FF0000" stroke-width="5.6"/>
<circle cx="1187.05" cy="2556.62" r="24.5" fill="#fff" stroke="#FF0000" stroke-width="5.6"/>
<circle cx="1253.45" cy="2502.65" r="24.5" fill="#fff" stroke="#FF0000" stroke-width="5.6"/>
<circle cx="1319.65" cy="2448.68" r="24.5" fill="#fff" stroke="#FF0000" stroke-width="5.6"/>
<circle cx="1385.06" cy="2394.71" r="24.5" fill="#fff" stroke="#FF0000" stroke-width="5.6"/>
<circle cx="1450.46" cy="2340.74" r="24.5" fill="#fff" stroke="#FF0000" stroke-width="5.6"/>
<circle cx="1515.77" cy="2286.77" r="24.5" fill="#fff" stroke="#FF0000" stroke-width="5.6"/>
<circle cx="1580.17" cy="2232.80" r="24.5" fill="#fff" stroke="#FF0000" stroke-width="5.6"/>
<circle cx="1644.72" cy="2178.82" r="24.5" fill="#fff" stroke="#FF0000" stroke-width="5.6"/>
<circle cx="1708.48" cy="2124.85" r="24.5" fill="#fff" stroke="#FF0000" stroke-width="5.6"/>
<circle cx="1772.38" cy="2070.88" r="24.5" fill="#fff" stroke="#FF0000" stroke-width="5.6"/>
<circle cx="1836.09" cy="2016.91" r="24.5" fill="#fff" stroke="#FF0000" stroke-width="5.6"/>
<circle cx="1899.79" cy="1962.94" r="24.5" fill="#fff" stroke="#FF0000" stroke-width="5.6"/>
<circle cx="1963.15" cy="1908.97" r="24.5" fill="#fff" stroke="#FF0000" stroke-width="5.6"/>
<circle cx="2026.45" cy="1855.00" r="24.5" fill="#fff" stroke="#FF0000" stroke-width="5.6"/>
<path d="M582.60 3150.30 L633.30 3096.33 L695.41 3042.36 L757.31 2988.39 L818.82 2934.42 L880.52 2880.45 L941.83 2826.47 L1002.93 2772.50 L1064.03 2718.53 L1124.74 2664.56 L1185.04 2610.59 L1245.95 2556.62 L1305.65 2502.65 L1364.95 2448.68 L1422.66 2394.71 L1480.36 2340.74 L1537.87 2286.77 L1593.57 2232.80 L1649.58 2178.82 L1703.98 2124.85 L1758.68 2070.88 L1812.99 2016.91 L1867.29 1962.94 L1920.90 1908.97 L1974.40 1855.00" fill="none" stroke="#0000FF" stroke-width="8" stroke-linejoin="round" stroke-linecap="round"/>
<path d="M582.60 3116.17L612.16 3167.37L553.04 3167.37Z" fill="#fff" stroke="#0000FF" stroke-width="5.8" stroke-linejoin="round"/>
<path d="M633.30 3062.20L662.87 3113.40L603.74 3113.40Z" fill="#fff" stroke="#0000FF" stroke-width="5.8" stroke-linejoin="round"/>
<path d="M695.41 3008.23L724.97 3059.43L665.85 3059.43Z" fill="#fff" stroke="#0000FF" stroke-width="5.8" stroke-linejoin="round"/>
<path d="M757.31 2954.25L786.87 3005.45L727.75 3005.45Z" fill="#fff" stroke="#0000FF" stroke-width="5.8" stroke-linejoin="round"/>
<path d="M818.82 2900.28L848.38 2951.48L789.26 2951.48Z" fill="#fff" stroke="#0000FF" stroke-width="5.8" stroke-linejoin="round"/>
<path d="M880.52 2846.31L910.08 2897.51L850.96 2897.51Z" fill="#fff" stroke="#0000FF" stroke-width="5.8" stroke-linejoin="round"/>
<path d="M941.83 2792.34L971.39 2843.54L912.26 2843.54Z" fill="#fff" stroke="#0000FF" stroke-width="5.8" stroke-linejoin="round"/>
<path d="M1002.93 2738.37L1032.49 2789.57L973.37 2789.57Z" fill="#fff" stroke="#0000FF" stroke-width="5.8" stroke-linejoin="round"/>
<path d="M1064.03 2684.40L1093.59 2735.60L1034.47 2735.60Z" fill="#fff" stroke="#0000FF" stroke-width="5.8" stroke-linejoin="round"/>
<path d="M1124.74 2630.43L1154.30 2681.63L1095.18 2681.63Z" fill="#fff" stroke="#0000FF" stroke-width="5.8" stroke-linejoin="round"/>
<path d="M1185.04 2576.46L1214.60 2627.66L1155.48 2627.66Z" fill="#fff" stroke="#0000FF" stroke-width="5.8" stroke-linejoin="round"/>
<path d="M1245.95 2522.49L1275.51 2573.69L1216.38 2573.69Z" fill="#fff" stroke="#0000FF" stroke-width="5.8" stroke-linejoin="round"/>
<path d="M1305.65 2468.52L1335.21 2519.72L1276.09 2519.72Z" fill="#fff" stroke="#0000FF" stroke-width="5.8" stroke-linejoin="round"/>
<path d="M1364.95 2414.55L1394.52 2465.75L1335.39 2465.75Z" fill="#fff" stroke="#0000FF" stroke-width="5.8" stroke-linejoin="round"/>
<path d="M1422.66 2360.58L1452.22 2411.78L1393.10 2411.78Z" fill="#fff" stroke="#0000FF" stroke-width="5.8" stroke-linejoin="round"/>
<path d="M1480.36 2306.60L1509.92 2357.80L1450.80 2357.80Z" fill="#fff" stroke="#0000FF" stroke-width="5.8" stroke-linejoin="round"/>
<path d="M1537.87 2252.63L1567.43 2303.83L1508.31 2303.83Z" fill="#fff" stroke="#0000FF" stroke-width="5.8" stroke-linejoin="round"/>
<path d="M1593.57 2198.66L1623.13 2249.86L1564.01 2249.86Z" fill="#fff" stroke="#0000FF" stroke-width="5.8" stroke-linejoin="round"/>
<path d="M1649.58 2144.69L1679.14 2195.89L1620.01 2195.89Z" fill="#fff" stroke="#0000FF" stroke-width="5.8" stroke-linejoin="round"/>
<path d="M1703.98 2090.72L1733.54 2141.92L1674.42 2141.92Z" fill="#fff" stroke="#0000FF" stroke-width="5.8" stroke-linejoin="round"/>
<path d="M1758.68 2036.75L1788.24 2087.95L1729.12 2087.95Z" fill="#fff" stroke="#0000FF" stroke-width="5.8" stroke-linejoin="round"/>
<path d="M1812.99 1982.78L1842.55 2033.98L1783.43 2033.98Z" fill="#fff" stroke="#0000FF" stroke-width="5.8" stroke-linejoin="round"/>
<path d="M1867.29 1928.81L1896.85 1980.01L1837.73 1980.01Z" fill="#fff" stroke="#0000FF" stroke-width="5.8" stroke-linejoin="round"/>
<path d="M1920.90 1874.84L1950.46 1926.04L1891.33 1926.04Z" fill="#fff" stroke="#0000FF" stroke-width="5.8" stroke-linejoin="round"/>
<path d="M1974.40 1820.87L2003.96 1872.07L1944.84 1872.07Z" fill="#fff" stroke="#0000FF" stroke-width="5.8" stroke-linejoin="round"/>
<path d="M711.90 3150.30 L751.40 3096.33 L808.01 3042.36 L864.31 2988.39 L920.02 2934.42 L976.02 2880.45 L1031.42 2826.47 L1086.53 2772.50 L1141.63 2718.53 L1196.14 2664.56 L1250.04 2610.59 L1304.85 2556.62 L1357.85 2502.65 L1410.25 2448.68 L1460.26 2394.71 L1510.26 2340.74 L1559.97 2286.77 L1606.97 2232.80 L1654.42 2178.82 L1699.48 2124.85 L1744.98 2070.88 L1789.89 2016.91 L1834.79 1962.94 L1878.65 1908.97 L1922.35 1855.00" fill="none" stroke="#FF00FF" stroke-width="8" stroke-linejoin="round" stroke-linecap="round"/>
<path d="M711.90 3184.43L741.46 3133.23L682.34 3133.23Z" fill="#fff" stroke="#FF00FF" stroke-width="5.8" stroke-linejoin="round"/>
<path d="M751.40 3130.46L780.97 3079.26L721.84 3079.26Z" fill="#fff" stroke="#FF00FF" stroke-width="5.8" stroke-linejoin="round"/>
<path d="M808.01 3076.49L837.57 3025.29L778.45 3025.29Z" fill="#fff" stroke="#FF00FF" stroke-width="5.8" stroke-linejoin="round"/>
<path d="M864.31 3022.52L893.87 2971.32L834.75 2971.32Z" fill="#fff" stroke="#FF00FF" stroke-width="5.8" stroke-linejoin="round"/>
<path d="M920.02 2968.55L949.58 2917.35L890.46 2917.35Z" fill="#fff" stroke="#FF00FF" stroke-width="5.8" stroke-linejoin="round"/>
<path d="M976.02 2914.58L1005.58 2863.38L946.46 2863.38Z" fill="#fff" stroke="#FF00FF" stroke-width="5.8" stroke-linejoin="round"/>
<path d="M1031.42 2860.61L1060.99 2809.41L1001.86 2809.41Z" fill="#fff" stroke="#FF00FF" stroke-width="5.8" stroke-linejoin="round"/>
<path d="M1086.53 2806.64L1116.09 2755.44L1056.97 2755.44Z" fill="#fff" stroke="#FF00FF" stroke-width="5.8" stroke-linejoin="round"/>
<path d="M1141.63 2752.67L1171.19 2701.47L1112.07 2701.47Z" fill="#fff" stroke="#FF00FF" stroke-width="5.8" stroke-linejoin="round"/>
<path d="M1196.14 2698.70L1225.70 2647.50L1166.58 2647.50Z" fill="#fff" stroke="#FF00FF" stroke-width="5.8" stroke-linejoin="round"/>
<path d="M1250.04 2644.72L1279.60 2593.53L1220.48 2593.53Z" fill="#fff" stroke="#FF00FF" stroke-width="5.8" stroke-linejoin="round"/>
<path d="M1304.85 2590.75L1334.41 2539.55L1275.28 2539.55Z" fill="#fff" stroke="#FF00FF" stroke-width="5.8" stroke-linejoin="round"/>
<path d="M1357.85 2536.78L1387.41 2485.58L1328.29 2485.58Z" fill="#fff" stroke="#FF00FF" stroke-width="5.8" stroke-linejoin="round"/>
<path d="M1410.25 2482.81L1439.82 2431.61L1380.69 2431.61Z" fill="#fff" stroke="#FF00FF" stroke-width="5.8" stroke-linejoin="round"/>
<path d="M1460.26 2428.84L1489.82 2377.64L1430.70 2377.64Z" fill="#fff" stroke="#FF00FF" stroke-width="5.8" stroke-linejoin="round"/>
<path d="M1510.26 2374.87L1539.82 2323.67L1480.70 2323.67Z" fill="#fff" stroke="#FF00FF" stroke-width="5.8" stroke-linejoin="round"/>
<path d="M1559.97 2320.90L1589.53 2269.70L1530.41 2269.70Z" fill="#fff" stroke="#FF00FF" stroke-width="5.8" stroke-linejoin="round"/>
<path d="M1606.97 2266.93L1636.53 2215.73L1577.41 2215.73Z" fill="#fff" stroke="#FF00FF" stroke-width="5.8" stroke-linejoin="round"/>
<path d="M1654.42 2212.96L1683.99 2161.76L1624.86 2161.76Z" fill="#fff" stroke="#FF00FF" stroke-width="5.8" stroke-linejoin="round"/>
<path d="M1699.48 2158.99L1729.04 2107.79L1669.92 2107.79Z" fill="#fff" stroke="#FF00FF" stroke-width="5.8" stroke-linejoin="round"/>
<path d="M1744.98 2105.02L1774.54 2053.82L1715.42 2053.82Z" fill="#fff" stroke="#FF00FF" stroke-width="5.8" stroke-linejoin="round"/>
<path d="M1789.89 2051.05L1819.45 1999.85L1760.33 1999.85Z" fill="#fff" stroke="#FF00FF" stroke-width="5.8" stroke-linejoin="round"/>
<path d="M1834.79 1997.08L1864.35 1945.88L1805.23 1945.88Z" fill="#fff" stroke="#FF00FF" stroke-width="5.8" stroke-linejoin="round"/>
<path d="M1878.65 1943.10L1908.21 1891.90L1849.08 1891.90Z" fill="#fff" stroke="#FF00FF" stroke-width="5.8" stroke-linejoin="round"/>
<path d="M1922.35 1889.13L1951.91 1837.93L1892.79 1837.93Z" fill="#fff" stroke="#FF00FF" stroke-width="5.8" stroke-linejoin="round"/>
<path d="M841.20 3150.30 L869.50 3096.33 L920.61 3042.36 L971.31 2988.39 L1021.22 2934.42 L1071.52 2880.45 L1121.03 2826.47 L1170.13 2772.50 L1219.23 2718.53 L1267.54 2664.56 L1315.04 2610.59 L1363.75 2556.62 L1410.05 2502.65 L1455.55 2448.68 L1497.86 2394.71 L1540.16 2340.74 L1582.07 2286.77 L1620.37 2232.80 L1659.28 2178.82 L1694.98 2124.85 L1731.28 2070.88 L1766.79 2016.91 L1802.29 1962.94 L1836.40 1908.97 L1870.30 1855.00" fill="none" stroke="#008000" stroke-width="8" stroke-linejoin="round" stroke-linecap="round"/>
<path d="M841.20 3119.30L872.20 3150.30L841.20 3181.30L810.20 3150.30Z" fill="#fff" stroke="#008000" stroke-width="5.8" stroke-linejoin="round"/>
<path d="M869.50 3065.33L900.50 3096.33L869.50 3127.33L838.50 3096.33Z" fill="#fff" stroke="#008000" stroke-width="5.8" stroke-linejoin="round"/>
<path d="M920.61 3011.36L951.61 3042.36L920.61 3073.36L889.61 3042.36Z" fill="#fff" stroke="#008000" stroke-width="5.8" stroke-linejoin="round"/>
<path d="M971.31 2957.39L1002.31 2988.39L971.31 3019.39L940.31 2988.39Z" fill="#fff" stroke="#008000" stroke-width="5.8" stroke-linejoin="round"/>
<path d="M1021.22 2903.42L1052.22 2934.42L1021.22 2965.42L990.22 2934.42Z" fill="#fff" stroke="#008000" stroke-width="5.8" stroke-linejoin="round"/>
<path d="M1071.52 2849.45L1102.52 2880.45L1071.52 2911.45L1040.52 2880.45Z" fill="#fff" stroke="#008000" stroke-width="5.8" stroke-linejoin="round"/>
<path d="M1121.03 2795.47L1152.03 2826.47L1121.03 2857.47L1090.03 2826.47Z" fill="#fff" stroke="#008000" stroke-width="5.8" stroke-linejoin="round"/>
<path d="M1170.13 2741.50L1201.13 2772.50L1170.13 2803.50L1139.13 2772.50Z" fill="#fff" stroke="#008000" stroke-width="5.8" stroke-linejoin="round"/>
<path d="M1219.23 2687.53L1250.23 2718.53L1219.23 2749.53L1188.23 2718.53Z" fill="#fff" stroke="#008000" stroke-width="5.8" stroke-linejoin="round"/>
<path d="M1267.54 2633.56L1298.54 2664.56L1267.54 2695.56L1236.54 2664.56Z" fill="#fff" stroke="#008000" stroke-width="5.8" stroke-linejoin="round"/>
<path d="M1315.04 2579.59L1346.04 2610.59L1315.04 2641.59L1284.04 2610.59Z" fill="#fff" stroke="#008000" stroke-width="5.8" stroke-linejoin="round"/>
<path d="M1363.75 2525.62L1394.75 2556.62L1363.75 2587.62L1332.75 2556.62Z" fill="#fff" stroke="#008000" stroke-width="5.8" stroke-linejoin="round"/>
<path d="M1410.05 2471.65L1441.05 2502.65L1410.05 2533.65L1379.05 2502.65Z" fill="#fff" stroke="#008000" stroke-width="5.8" stroke-linejoin="round"/>
<path d="M1455.55 2417.68L1486.55 2448.68L1455.55 2479.68L1424.55 2448.68Z" fill="#fff" stroke="#008000" stroke-width="5.8" stroke-linejoin="round"/>
<path d="M1497.86 2363.71L1528.86 2394.71L1497.86 2425.71L1466.86 2394.71Z" fill="#fff" stroke="#008000" stroke-width="5.8" stroke-linejoin="round"/>
<path d="M1540.16 2309.74L1571.16 2340.74L1540.16 2371.74L1509.16 2340.74Z" fill="#fff" stroke="#008000" stroke-width="5.8" stroke-linejoin="round"/>
<path d="M1582.07 2255.77L1613.07 2286.77L1582.07 2317.77L1551.07 2286.77Z" fill="#fff" stroke="#008000" stroke-width="5.8" stroke-linejoin="round"/>
<path d="M1620.37 2201.80L1651.37 2232.80L1620.37 2263.80L1589.37 2232.80Z" fill="#fff" stroke="#008000" stroke-width="5.8" stroke-linejoin="round"/>
<path d="M1659.28 2147.82L1690.28 2178.82L1659.28 2209.82L1628.28 2178.82Z" fill="#fff" stroke="#008000" stroke-width="5.8" stroke-linejoin="round"/>
<path d="M1694.98 2093.85L1725.98 2124.85L1694.98 2155.85L1663.98 2124.85Z" fill="#fff" stroke="#008000" stroke-width="5.8" stroke-linejoin="round"/>
<path d="M1731.28 2039.88L1762.28 2070.88L1731.28 2101.88L1700.28 2070.88Z" fill="#fff" stroke="#008000" stroke-width="5.8" stroke-linejoin="round"/>
<path d="M1766.79 1985.91L1797.79 2016.91L1766.79 2047.91L1735.79 2016.91Z" fill="#fff" stroke="#008000" stroke-width="5.8" stroke-linejoin="round"/>
<path d="M1802.29 1931.94L1833.29 1962.94L1802.29 1993.94L1771.29 1962.94Z" fill="#fff" stroke="#008000" stroke-width="5.8" stroke-linejoin="round"/>
<path d="M1836.40 1877.97L1867.40 1908.97L1836.40 1939.97L1805.40 1908.97Z" fill="#fff" stroke="#008000" stroke-width="5.8" stroke-linejoin="round"/>
<path d="M1870.30 1824.00L1901.30 1855.00L1870.30 1886.00L1839.30 1855.00Z" fill="#fff" stroke="#008000" stroke-width="5.8" stroke-linejoin="round"/>
</g>
<line x1="389.8" y1="2065.30" x2="541.5" y2="2065.30" stroke="#000000" stroke-width="8" stroke-linecap="round"/>
<rect x="443.80" y="2043.80" width="43.0" height="43.0" fill="#fff" stroke="#000000" stroke-width="5.8"/>
<text transform="translate(562.77,2089.60) scale(0.95,1)" font-size="71.5" font-weight="bold" font-family='"Liberation Sans", Arial, sans-serif' fill="#000">t</text>
<text transform="translate(585.71,2113.00) scale(0.932,1)" font-size="43.2" font-weight="bold" font-family='"Liberation Sans", Arial, sans-serif' fill="#000">FE</text>
<text transform="translate(637.07,2087.32) scale(0.955,0.9178)" font-size="71.5" font-weight="bold" font-family='"Liberation Sans", Arial, sans-serif'>=</text>
<text transform="translate(678.70,2089.60) scale(0.955,1)" font-size="71.5" font-weight="bold" font-family='"Liberation Sans", Arial, sans-serif'>0 nm</text>
<line x1="389.8" y1="2172.00" x2="541.5" y2="2172.00" stroke="#FF0000" stroke-width="8" stroke-linecap="round"/>
<circle cx="465.30" cy="2172.00" r="24.5" fill="#fff" stroke="#FF0000" stroke-width="5.6"/>
<text transform="translate(562.77,2196.30) scale(0.95,1)" font-size="71.5" font-weight="bold" font-family='"Liberation Sans", Arial, sans-serif' fill="#000">t</text>
<text transform="translate(585.71,2219.70) scale(0.932,1)" font-size="43.2" font-weight="bold" font-family='"Liberation Sans", Arial, sans-serif' fill="#000">FE</text>
<text transform="translate(637.07,2194.02) scale(0.955,0.9178)" font-size="71.5" font-weight="bold" font-family='"Liberation Sans", Arial, sans-serif'>=</text>
<text transform="translate(678.70,2196.30) scale(0.955,1)" font-size="71.5" font-weight="bold" font-family='"Liberation Sans", Arial, sans-serif'>3 nm</text>
<line x1="389.8" y1="2278.70" x2="541.5" y2="2278.70" stroke="#0000FF" stroke-width="8" stroke-linecap="round"/>
<path d="M465.30 2244.57L494.86 2295.77L435.74 2295.77Z" fill="#fff" stroke="#0000FF" stroke-width="5.8" stroke-linejoin="round"/>
<text transform="translate(562.77,2303.00) scale(0.95,1)" font-size="71.5" font-weight="bold" font-family='"Liberation Sans", Arial, sans-serif' fill="#000">t</text>
<text transform="translate(585.71,2326.40) scale(0.932,1)" font-size="43.2" font-weight="bold" font-family='"Liberation Sans", Arial, sans-serif' fill="#000">FE</text>
<text transform="translate(637.07,2300.72) scale(0.955,0.9178)" font-size="71.5" font-weight="bold" font-family='"Liberation Sans", Arial, sans-serif'>=</text>
<text transform="translate(678.70,2303.00) scale(0.955,1)" font-size="71.5" font-weight="bold" font-family='"Liberation Sans", Arial, sans-serif'>6 nm</text>
<line x1="389.8" y1="2385.40" x2="541.5" y2="2385.40" stroke="#FF00FF" stroke-width="8" stroke-linecap="round"/>
<path d="M465.30 2419.53L494.86 2368.33L435.74 2368.33Z" fill="#fff" stroke="#FF00FF" stroke-width="5.8" stroke-linejoin="round"/>
<text transform="translate(562.77,2409.70) scale(0.95,1)" font-size="71.5" font-weight="bold" font-family='"Liberation Sans", Arial, sans-serif' fill="#000">t</text>
<text transform="translate(585.71,2433.10) scale(0.932,1)" font-size="43.2" font-weight="bold" font-family='"Liberation Sans", Arial, sans-serif' fill="#000">FE</text>
<text transform="translate(637.07,2407.42) scale(0.955,0.9178)" font-size="71.5" font-weight="bold" font-family='"Liberation Sans", Arial, sans-serif'>=</text>
<text transform="translate(678.70,2409.70) scale(0.955,1)" font-size="71.5" font-weight="bold" font-family='"Liberation Sans", Arial, sans-serif'>9 nm</text>
<line x1="389.8" y1="2492.10" x2="541.5" y2="2492.10" stroke="#008000" stroke-width="8" stroke-linecap="round"/>
<path d="M465.30 2461.10L496.30 2492.10L465.30 2523.10L434.30 2492.10Z" fill="#fff" stroke="#008000" stroke-width="5.8" stroke-linejoin="round"/>
<text transform="translate(562.77,2516.40) scale(0.95,1)" font-size="71.5" font-weight="bold" font-family='"Liberation Sans", Arial, sans-serif' fill="#000">t</text>
<text transform="translate(585.71,2539.80) scale(0.932,1)" font-size="43.2" font-weight="bold" font-family='"Liberation Sans", Arial, sans-serif' fill="#000">FE</text>
<text transform="translate(637.07,2514.12) scale(0.955,0.9178)" font-size="71.5" font-weight="bold" font-family='"Liberation Sans", Arial, sans-serif'>=</text>
<text transform="translate(678.70,2516.40) scale(0.955,1)" clip-path="url(#one715)" font-size="71.5" font-weight="bold" font-family='"Liberation Sans", Arial, sans-serif'>1</text>
<text transform="translate(716.68,2516.40) scale(0.955,1)" font-size="71.5" font-weight="bold" font-family='"Liberation Sans", Arial, sans-serif'>2 nm</text>
<text x="430.0" y="1980.3" font-size="78" font-family='"Liberation Serif", serif' font-weight="bold">ε</text>
<text transform="translate(463.03,2000.50) scale(0.951,1)" font-size="42.9" font-weight="bold" font-family='"Liberation Sans", Arial, sans-serif' fill="#000">CAV</text>
<text x="547.5" y="1975.2" font-size="66.5" font-family='"Liberation Sans", Arial, sans-serif'>=</text>
<text x="586.7" y="1980.3" font-size="78" font-family='"Liberation Serif", serif' font-weight="bold">ε</text>
<text transform="translate(618.27,2000.50) scale(0.951,1)" font-size="42.9" font-weight="bold" font-family='"Liberation Sans", Arial, sans-serif' fill="#000">DNA</text>
<text transform="translate(706.13,1974.29) scale(0.95,0.8699)" font-size="72.7" font-weight="bold" font-family='"Liberation Sans", Arial, sans-serif'>=</text>
<text transform="translate(746.98,1978.50) scale(0.95,1)" font-size="72.7" font-weight="bold" font-family='"Liberation Sans", Arial, sans-serif' fill="#000">5</text>
<text transform="translate(1941.60,3111.50) scale(1.01,1)" font-size="87.5" font-weight="bold" font-family='"Liberation Sans", Arial, sans-serif' fill="#000">(b)</text>
</svg></body></html>
